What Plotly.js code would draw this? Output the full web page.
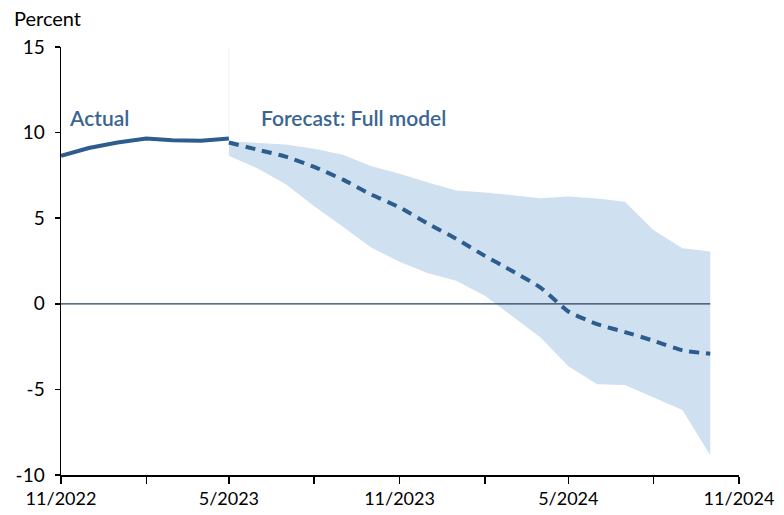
<!DOCTYPE html>
<html>
<head>
<meta charset="utf-8">
<script src="https://cdn.plot.ly/plotly-3.0.1.min.js"></script>
<style>html,body{margin:0;padding:0;background:#fff;}#chart{width:784px;height:515px;}</style>
</head>
<body>
<div id="chart"></div>
<script>
const actualDates = ['2022-11-01','2022-12-01','2023-01-01','2023-02-01','2023-03-01','2023-04-01','2023-05-01'];
const actualValues = [8.65, 9.1, 9.42, 9.65, 9.55, 9.53, 9.66];

const forecastDates = ['2023-05-01','2023-06-01','2023-07-01','2023-08-01','2023-09-01','2023-10-01','2023-11-01','2023-12-01',
  '2024-01-01','2024-02-01','2024-03-01','2024-04-01','2024-05-01','2024-06-01','2024-07-01','2024-08-01','2024-09-01','2024-10-01'];
const forecastMedian = [9.42, 9.0, 8.6, 8.0, 7.25, 6.4, 5.63, 4.7, 3.8, 2.8, 1.93, 0.95, -0.45, -1.19, -1.65, -2.16, -2.72, -2.92];
const forecastUpper = [9.5, 9.4, 9.3, 9.05, 8.7, 8.05, 7.6, 7.1, 6.62, 6.5, 6.35, 6.17, 6.27, 6.15, 5.96, 4.3, 3.25, 3.05];
const forecastLower = [8.65, 7.9, 7.0, 5.7, 4.5, 3.3, 2.45, 1.8, 1.35, 0.47, -0.7, -1.97, -3.65, -4.7, -4.74, -5.48, -6.2, -8.85];

const xTickVals = ['2022-11-01','2023-05-01','2023-11-01','2024-05-01','2024-11-01'];
const xTickText = ['11/2022','5/2023','11/2023','5/2024','11/2024'];
const yTickVals = [-10,-5,0,5,10,15];
const yTickText = ['-10','-5','0','5','10','15'];

const bandColor = '#cfe0f0';
const lineColor = '#2d5d8e';
const textColor = '#3a6592';
const fontFam = 'Lato, "Open Sans", sans-serif';

const traces = [
  {x: forecastDates, y: forecastLower, type:'scatter', mode:'lines', line:{width:0, color:bandColor}, hoverinfo:'skip', showlegend:false},
  {x: forecastDates, y: forecastUpper, type:'scatter', mode:'lines', line:{width:0, color:bandColor}, fill:'tonexty', fillcolor:bandColor, hoverinfo:'skip', showlegend:false},
  {x: actualDates, y: actualValues, type:'scatter', mode:'lines', line:{width:4, color:lineColor}, showlegend:false},
  {x: forecastDates, y: forecastMedian, type:'scatter', mode:'lines', line:{width:4, color:lineColor, dash:'10px,7px', shape:'spline', smoothing:0.5}, showlegend:false}
];

const layout = {
  width:784, height:515,
  margin:{l:61, r:45, t:47, b:40},
  paper_bgcolor:'#fff', plot_bgcolor:'#fff',
  font:{family:fontFam, size:17, color:'#000'},
  showlegend:false,
  xaxis:{
    type:'date', range:['2022-11-01','2024-11-01'],
    tickvals:xTickVals, ticktext:xTickText,
    ticks:'outside', ticklen:7, tickwidth:1.5, tickcolor:'#000',
    minor:{dtick:'M3', tick0:'2022-11-01', ticks:'outside', ticklen:7, tickwidth:1.5, tickcolor:'#000', showgrid:false},
    showline:true, linecolor:'#000', linewidth:1.5,
    showgrid:false, zeroline:false,
    tickfont:{size:18, family:fontFam, color:'#000'}
  },
  yaxis:{
    range:[-10,15], tickvals:yTickVals, ticktext:yTickText,
    ticks:'outside', ticklen:5, tickwidth:1.5, tickcolor:'#000',
    ticklabelstandoff:6,
    showline:true, linecolor:'#000', linewidth:1.5,
    showgrid:false, zeroline:false,
    tickfont:{size:19, family:fontFam, color:'#000'}
  },
  shapes:[
    {type:'line', xref:'x', yref:'y', x0:'2022-11-01', x1:'2024-10-01', y0:0, y1:0, line:{color:'#27405f', width:1.2}, layer:'above'},
    {type:'line', xref:'x', yref:'y', x0:'2023-05-01', x1:'2023-05-01', y0:9.7, y1:15, line:{color:'#f3f3f3', width:1}, layer:'below'}
  ],
  annotations:[
    {text:'Percent', xref:'paper', yref:'paper', x:-0.072, y:1.035, xanchor:'left', yanchor:'bottom', showarrow:false, font:{size:20, family:fontFam, color:'#000'}},
    {text:'Actual', xref:'x', yref:'y', x:'2022-11-08', y:10.9, xanchor:'left', yanchor:'middle', showarrow:false, font:{size:21, family:fontFam, color:textColor, weight:600}},
    {text:'Forecast: Full model', xref:'x', yref:'y', x:'2023-06-02', y:10.9, xanchor:'left', yanchor:'middle', showarrow:false, font:{size:21, family:fontFam, color:textColor, weight:600}}
  ]
};

Plotly.newPlot('chart', traces, layout, {displayModeBar:false, staticPlot:true});
</script>
</body>
</html>
